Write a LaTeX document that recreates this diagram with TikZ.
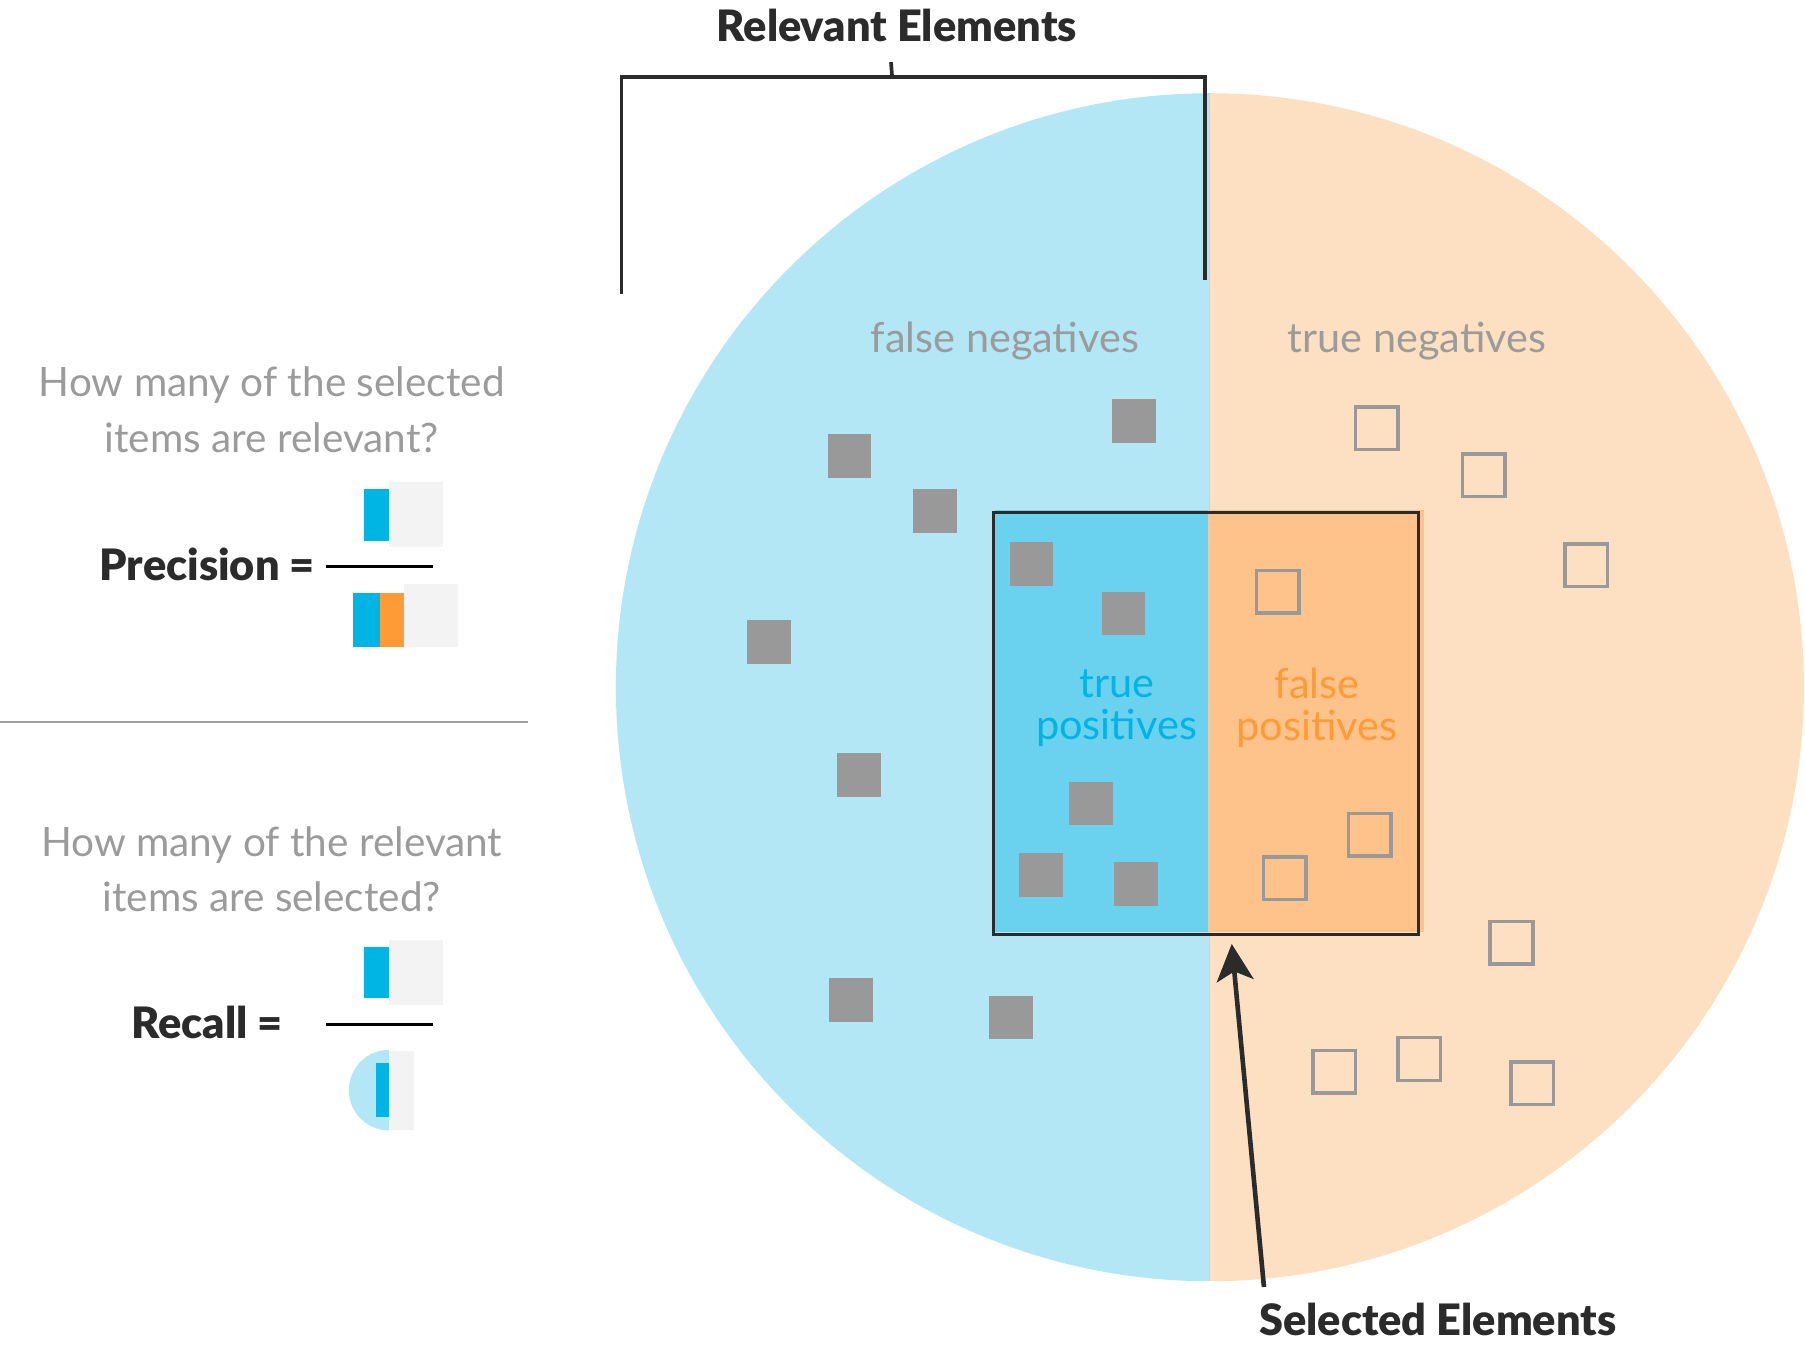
\documentclass[tikz,border=0pt]{standalone}
\usepackage{fontspec}
\setmainfont{Lato}
\newfontfamily\heavyfont{Lato Black}
\usetikzlibrary{arrows.meta}
\definecolor{cirblue}{RGB}{179,231,246}
\definecolor{cirpeach}{RGB}{253,224,193}
\definecolor{selblue}{RGB}{106,209,239}
\definecolor{selorange}{RGB}{254,195,138}
\definecolor{barblue}{RGB}{0,180,228}
\definecolor{barorange}{RGB}{255,155,54}
\definecolor{bargray}{RGB}{243,243,243}
\definecolor{sqgray}{RGB}{153,153,153}
\definecolor{txtgray}{RGB}{155,155,155}
\definecolor{dark}{RGB}{43,43,43}
\definecolor{sepgray}{RGB}{160,160,160}
\definecolor{splitline}{RGB}{214,210,200}
\tikzset{
  fsq/.style={rectangle,fill=sqgray,minimum size=19pt,inner sep=0pt},
  osq/.style={rectangle,draw=sqgray,line width=1.5pt,minimum size=18.5pt,inner sep=0pt},
  boldlab/.style={font=\fontsize{18.8}{22}\selectfont\heavyfont,text=dark,inner sep=0pt},
  grayq/.style={font=\fontsize{17.6}{24}\selectfont,text=txtgray,align=center,inner sep=0pt},
  regionlab/.style={font=\fontsize{18}{18.5}\selectfont,align=center,inner sep=0pt},
  darkline/.style={draw=dark,line width=1.6pt},
  fracline/.style={draw=black,line width=1.2pt},
}
\begin{document}
\begin{tikzpicture}[x=0.5pt,y=-0.5pt]
\useasboundingbox (0,0) rectangle (1568,1171);
\fill[white] (0,0) rectangle (1568,1171);
% big circle
\coordinate (cc) at (1051,597);
\begin{scope}
  \clip (0,0) rectangle (1051,1171);
  \fill[cirblue] (cc) circle[radius=516];
\end{scope}
\begin{scope}
  \clip (1051,0) rectangle (1568,1171);
  \fill[cirpeach] (cc) circle[radius=516];
\end{scope}
\draw[splitline,line width=0.5pt] (1051,81) -- (1051,1113);
% selection fill
\fill[selblue] (864,443) rectangle (1050,810);
\fill[selorange] (1050,443) rectangle (1237,810);
\draw[splitline!70!selorange,line width=0.5pt] (1050,443) -- (1050,810);
\node[draw=dark,line width=1.5pt,inner sep=0pt,minimum width=184.5pt,minimum height=183.5pt] (sel) at (1047.5,628.5) {};
% region labels
\node[regionlab,text=txtgray] (fn) at (873,296) {false negatives};
\node[regionlab,text=txtgray] (tn) at (1231,296) {true negatives};
\node[regionlab,text=barblue] (tp) at (970,615) {true\\positives};
\node[regionlab,text=barorange] (fp) at (1144,615) {false\\positives};
% filled squares
\node[fsq] (f1) at (985,366) {};
\node[fsq] (f2) at (738,396) {};
\node[fsq] (f3) at (812,444) {};
\node[fsq] (f4) at (896,490) {};
\node[fsq] (f5) at (976,533) {};
\node[fsq] (f6) at (668,558) {};
\node[fsq] (f7) at (746,673) {};
\node[fsq] (f8) at (948,698) {};
\node[fsq] (f9) at (904,760) {};
\node[fsq] (f10) at (987,768) {};
\node[fsq] (f11) at (739,869) {};
\node[fsq] (f12) at (878,884) {};
% outline squares
\node[osq] (o1) at (1196,372) {};
\node[osq] (o2) at (1289,413) {};
\node[osq] (o3) at (1378,491) {};
\node[osq] (o4) at (1110,514) {};
\node[osq] (o5) at (1190,725) {};
\node[osq] (o6) at (1116,763) {};
\node[osq] (o7) at (1313,819) {};
\node[osq] (o8) at (1159,931) {};
\node[osq] (o9) at (1233,920) {};
\node[osq] (o10) at (1331,941) {};
% relevant bracket
\node[boldlab] (rel) at (779,22) {Relevant Elements};
\coordinate (bl) at (540,255);
\coordinate (bltop) at (540,67);
\coordinate (brtop) at (1047,67);
\coordinate (br) at (1047,243);
\coordinate (btick) at (775,67);
\coordinate (btickend) at (774,54);
\draw[darkline] (bl) -- (bltop) -- (brtop) -- (br);
\draw[darkline] (btick) -- (btickend);
% selected arrow
\node[boldlab] (selt) at (1249,1146) {Selected Elements};
\coordinate (afoot) at (1098,1118);
\coordinate (atip) at (1070,820);
\draw[draw=dark,line width=2pt,-{Stealth[length=16pt,width=16pt,inset=4pt]}] (afoot) -- (atip);
% left panel: precision
\node[grayq] (q1) at (236,356) {How many of the selected\\items are relevant?};
\node[boldlab] (prec) at (180,490) {Precision =};
\fill[bargray] (338,419) rectangle (385,475);
\fill[barblue] (316,425) rectangle (338,470);
\coordinate (pl1) at (283,492);
\coordinate (pl2) at (376,492);
\draw[fracline] (pl1) -- (pl2);
\fill[bargray] (351,507) rectangle (398,562);
\fill[barblue] (307,515) rectangle (330,562);
\fill[barorange] (330,515) rectangle (351,562);
% separator
\coordinate (s1) at (0,627);
\coordinate (s2) at (459,627);
\draw[sepgray,line width=1pt] (s1) -- (s2);
% left panel: recall
\node[grayq] (q2) at (236,755) {How many of the relevant\\items are selected?};
\node[boldlab] (rec) at (180,888) {Recall =};
\fill[bargray] (338,817) rectangle (385,873);
\fill[barblue] (316,823) rectangle (338,867);
\coordinate (rl1) at (283,890);
\coordinate (rl2) at (376,890);
\draw[fracline] (rl1) -- (rl2);
\begin{scope}
  \clip (250,900) rectangle (338,1000);
  \fill[cirblue] (338,947) circle[radius=35];
\end{scope}
\fill[bargray] (338,913) rectangle (360,982);
\fill[barblue] (327,923) rectangle (338,970);
\end{tikzpicture}
\end{document}
